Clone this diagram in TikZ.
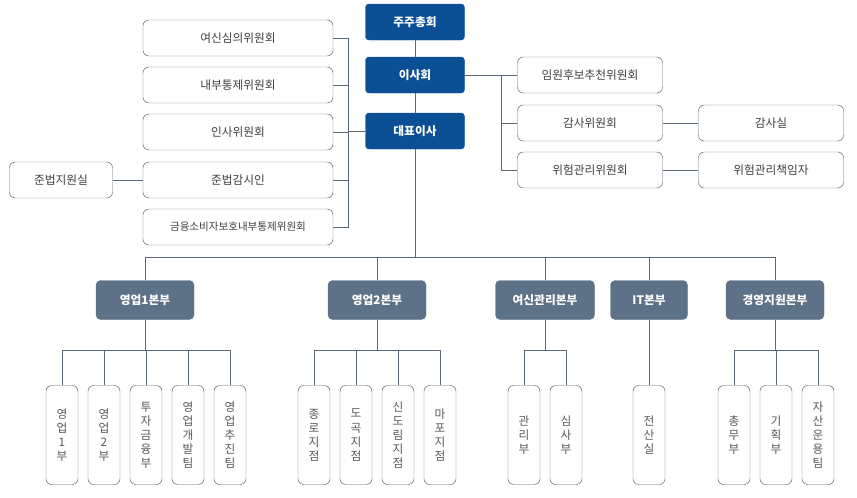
\documentclass[tikz,border=0pt]{standalone}
\usepackage{fontspec}
\setmainfont{Noto Sans CJK KR}
\usetikzlibrary{positioning}
\definecolor{topblue}{HTML}{0B4F94}
\definecolor{deptgray}{HTML}{5E7287}
\definecolor{wire}{HTML}{5A6878}
\tikzset{
  board/.style = {draw=topblue, fill=topblue, text=white, rounded corners=3, minimum width=99*0.03cm, minimum height=36*0.03cm, font=\bfseries\normalsize},
  committee/.style = {draw=wire, fill=white, text=black!75, rounded corners=5, minimum width=190*0.03cm, minimum height=36*0.03cm, font=\normalsize},
  dept/.style = {draw=deptgray, fill=deptgray, text=white, rounded corners=4, minimum height=39*0.03cm, font=\bfseries\normalsize},
  unit/.style = {draw=wire, fill=white, text=black!65, rounded corners=5, minimum width=32*0.03cm, minimum height=99*0.03cm, align=center, font=\normalsize, inner sep=1pt},
  wired/.style = {draw=wire, line width=0.6}
}
\begin{document}
\begin{tikzpicture}[x=0.03cm, y=-0.03cm]
  \useasboundingbox (0,0) rectangle (857,497);

  % Top
  \node[board] (gm) at (415,22) {주주총회};
  \node[board] (bod) at (415,75) {이사회};
  \node[board] (ceo) at (415,131) {대표이사};

  % Left committees
  \node[committee] (c1) at (238,38) {여신심의위원회};
  \node[committee] (c2) at (238,85) {내부통제위원회};
  \node[committee] (c3) at (238,132) {인사위원회};
  \node[committee] (c4) at (238,180) {준법감시인};
  \node[committee, font=\small] (c5) at (238,227) {금융소비자보호내부통제위원회};
  \node[committee, minimum width=103*0.03cm] (law) at (61,180) {준법지원실};
  \coordinate (lbus) at (348,131);

  % Right committees
  \node[committee, minimum width=145*0.03cm] (r1) at (590,75) {임원후보추천위원회};
  \node[committee, minimum width=145*0.03cm] (r2) at (590,123) {감사위원회};
  \node[committee, minimum width=145*0.03cm] (r3) at (590,170) {위험관리위원회};
  \node[committee, minimum width=145*0.03cm] (audit) at (771,123) {감사실};
  \node[committee, minimum width=145*0.03cm] (risk) at (771,170) {위험관리책임자};
  \coordinate (rbus) at (501,75);

  % Divisions
  \node[dept, minimum width=98*0.03cm] (d1) at (145,300) {영업1본부};
  \node[dept, minimum width=98*0.03cm] (d2) at (377,300) {영업2본부};
  \node[dept, minimum width=99*0.03cm] (d3) at (545,300) {여신관리본부};
  \node[dept, minimum width=77*0.03cm] (d4) at (649,300) {IT본부};
  \node[dept, minimum width=98*0.03cm] (d5) at (775,300) {경영지원본부};
  \coordinate (dbus) at (415,257);

  % Units
  \node[unit] (u11) at (62,435) {영\\업\\1\\부};
  \node[unit] (u12) at (104,435) {영\\업\\2\\부};
  \node[unit] (u13) at (146,435) {투\\자\\금\\융\\부};
  \node[unit] (u14) at (188,435) {영\\업\\개\\발\\팀};
  \node[unit] (u15) at (230,435) {영\\업\\추\\진\\팀};
  \node[unit] (u21) at (314,435) {종\\로\\지\\점};
  \node[unit] (u22) at (356,435) {도\\곡\\지\\점};
  \node[unit] (u23) at (398,435) {신\\도\\림\\지\\점};
  \node[unit] (u24) at (440,435) {마\\포\\지\\점};
  \node[unit] (u31) at (524,435) {관\\리\\부};
  \node[unit] (u32) at (566,435) {심\\사\\부};
  \node[unit] (u41) at (649,435) {전\\산\\실};
  \node[unit] (u51) at (734,435) {총\\무\\부};
  \node[unit] (u52) at (776,435) {기\\획\\부};
  \node[unit] (u53) at (818,435) {자\\산\\운\\용\\팀};

  % Connectors
  \draw[wired] (gm) -- (bod);
  \draw[wired] (bod) -- (ceo);
  \draw[wired] (ceo) -- (lbus);
  \foreach \c in {c1,c2,c3,c4,c5}
    \draw[wired] (\c.east) -| (lbus);
  \draw[wired] (law) -- (c4);
  \draw[wired] (bod) -- (r1);
  \foreach \c in {r2,r3}
    \draw[wired] (\c.west) -| (rbus);
  \draw[wired] (r2) -- (audit);
  \draw[wired] (r3) -- (risk);
  \draw[wired] (ceo) -- (dbus);
  \foreach \d in {d1,d2,d3,d4,d5}
    \draw[wired] (dbus) -| (\d);
  \foreach \d/\u in {d1/u11,d1/u12,d1/u13,d1/u14,d1/u15,d2/u21,d2/u22,d2/u23,d2/u24,d3/u31,d3/u32,d5/u51,d5/u52,d5/u53}
    \draw[wired] (\d.south) -- ++(0,31) -| (\u);
  \draw[wired] (d4) -- (u41);
\end{tikzpicture}
\end{document}
